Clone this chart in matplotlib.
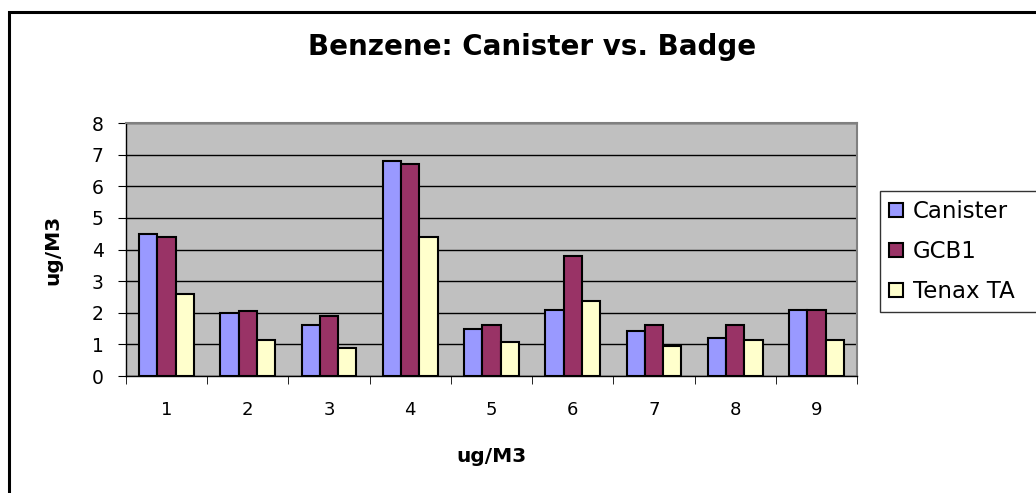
import matplotlib
matplotlib.use("Agg")
import matplotlib.pyplot as plt
import matplotlib.patches as mpatches
import numpy as np

# ── Data ─────────────────────────────────────────────────────────────────────
samples  = ["1", "2", "3", "4", "5", "6", "7", "8", "9"]
canister = [4.5, 2.0, 1.6, 6.8, 1.5, 2.08, 1.43, 1.2, 2.08]
gcb1     = [4.4, 2.07, 1.9, 6.7, 1.6, 3.8, 1.6, 1.6, 2.08]
tenax_ta = [2.6, 1.13, 0.9, 4.4, 1.08, 2.37, 0.95, 1.14, 1.14]

series_names  = ["Canister", "GCB1", "Tenax TA"]
series_colors = ["#9999FF", "#993366", "#FFFFCC"]

# the source text is rendered wide, DejaVu gets closer to it than Arial metrics
plt.rcParams["font.family"] = ["DejaVu Sans"]

# ── Figure ───────────────────────────────────────────────────────────────────
fig = plt.figure(figsize=(10.36, 4.93), dpi=100, facecolor="white")
ax = fig.add_axes([0.1216, 0.2373, 0.7056, 0.5132])
ax.set_facecolor("#C0C0C0")

x = np.arange(len(samples))
bw = 0.225
for i, (vals, name, col) in enumerate(zip([canister, gcb1, tenax_ta], series_names, series_colors)):
    ax.bar(x + (i - 1) * bw, vals, width=bw, color=col, edgecolor="black",
           linewidth=1.5, label=name, zorder=3)

ax.set_xlim(-0.5, len(samples) - 0.5)
ax.set_ylim(0, 8)
ax.set_yticks(range(0, 9))
ax.yaxis.grid(True, color="black", linewidth=1.0, zorder=1)
ax.set_axisbelow(True)

# category labels at centres, tick marks at boundaries
ax.set_xticks(x)
ax.set_xticklabels(samples)
ax.set_xticks(np.arange(-0.5, len(samples)), minor=True)
ax.tick_params(axis="x", which="major", length=0, pad=18, labelsize=13)
ax.tick_params(axis="x", which="minor", length=6, direction="out", color="black")
ax.tick_params(axis="y", which="major", length=6, direction="out", pad=10, labelsize=13.5)

for side in ["left", "bottom"]:
    ax.spines[side].set_color("black")
    ax.spines[side].set_linewidth(1.0)
for side in ["top", "right"]:
    ax.spines[side].set_color("#808080")
    ax.spines[side].set_linewidth(1.5)

ax.set_xlabel("ug/M3", fontsize=14.5, fontweight="bold", labelpad=20)
ax.set_ylabel("ug/M3", fontsize=14.5, fontweight="bold", labelpad=21)

fig.text(532 / 1036, 1 - 47 / 493, "Benzene: Canister vs. Badge",
         fontsize=20, fontweight="bold", ha="center", va="center")

# ── Legend (runs off the right edge, like the source) ───────────────────────
leg_top = 1 - 191 / 493
leg = ax.legend(loc="upper left", mode="expand",
                bbox_to_anchor=(880 / 1036, leg_top - 0.3, 0.17, 0.3),
                bbox_transform=fig.transFigure, fontsize=16.5, frameon=True,
                fancybox=False, edgecolor="black", handlelength=0.6,
                handleheight=0.6, handletextpad=0.45, labelspacing=0.74,
                borderpad=0.4, borderaxespad=0)
leg.get_frame().set_linewidth(1.0)
for h in leg.legend_handles:
    h.set_linewidth(1.5)

# ── Outer chart frame ────────────────────────────────────────────────────────
fig.patches.append(mpatches.Rectangle((9 / 1036, -0.2), 1.2, 1.2 - 11.5 / 493,
                                      transform=fig.transFigure, fill=False,
                                      edgecolor="black", linewidth=2.2))

fig.savefig("out.png", dpi=100, facecolor="white")
